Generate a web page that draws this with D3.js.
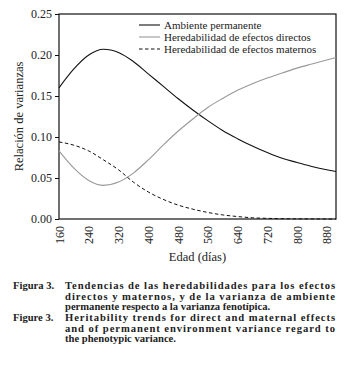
<!DOCTYPE html>
<html>
<head>
<meta charset="utf-8">
<script src="https://cdn.jsdelivr.net/npm/d3@7"></script>
<style>
body { margin: 0; background: #fff; }
svg text { font-family: "Liberation Serif", "DejaVu Serif", serif; fill: #222; }
</style>
</head>
<body>
<script>
// data (edad en días)
var days = [160, 200, 240, 280, 320, 360, 400, 440, 480, 520, 560, 600, 640, 680, 720, 760, 800, 840, 880, 905];
var ambiente = [0.160, 0.183, 0.200, 0.207, 0.203, 0.192, 0.177, 0.162, 0.147, 0.133, 0.120, 0.108, 0.098, 0.089, 0.081, 0.074, 0.069, 0.064, 0.060, 0.058];
var directos = [0.083, 0.062, 0.047, 0.041, 0.045, 0.056, 0.072, 0.090, 0.107, 0.122, 0.136, 0.147, 0.157, 0.165, 0.172, 0.178, 0.184, 0.189, 0.194, 0.197];
var maternos = [0.094, 0.090, 0.083, 0.072, 0.060, 0.045, 0.033, 0.024, 0.017, 0.012, 0.008, 0.005, 0.003, 0.0015, 0.0008, 0.0004, 0.0002, 0.0001, 0.0, 0.0];
var xTicks = [160, 240, 320, 400, 480, 560, 640, 720, 800, 880];
var yTicks = [0, 0.05, 0.10, 0.15, 0.20, 0.25];
var seriesNames = ["Ambiente permanente", "Heredabilidad de efectos directos", "Heredabilidad de efectos maternos"];
var captionEs = ["Tendencias de las heredabilidades para los efectos", "directos y maternos, y de la varianza de ambiente", "permanente respecto a la varianza fenotípica."];
var captionEn = ["Heritability trends for direct and maternal effects", "and of permanent environment variance regard to", "the phenotypic variance."];

var W = 347, H = 378;
var pLeft = 59, pRight = 336, pTop = 14, pBottom = 219; // plot box (top is taken by window.top)

var svg = d3.select("body").append("svg")
    .attr("width", W)
    .attr("height", H);

var x = d3.scaleLinear().domain([160, 905]).range([pLeft, pRight]);
var y = d3.scaleLinear().domain([0, 0.25]).range([pBottom, pTop]);

// frame
svg.append("rect")
    .attr("x", pLeft).attr("y", pTop)
    .attr("width", pRight - pLeft).attr("height", pBottom - pTop)
    .attr("fill", "none").attr("stroke", "#111").attr("stroke-width", 1.2);

// y axis
var yAxis = svg.append("g")
    .attr("transform", "translate(" + pLeft + ",0)")
    .call(d3.axisLeft(y).tickValues(yTicks).tickFormat(d3.format(".2f")).tickSize(4).tickPadding(3));
yAxis.select(".domain").remove();
yAxis.selectAll("line").attr("stroke", "#111");
yAxis.selectAll("text").attr("font-size", "12px").style("font-family", "Liberation Serif").attr("fill", "#222");

// x axis, labels rotated
var xAxis = svg.append("g")
    .attr("transform", "translate(0," + pBottom + ")")
    .call(d3.axisBottom(x).tickValues(xTicks).tickSize(0).tickPadding(0));
xAxis.select(".domain").remove();
xAxis.selectAll("text")
    .attr("font-size", "12px")
    .style("font-family", "Liberation Serif")
    .attr("fill", "#222")
    .attr("text-anchor", "end")
    .attr("transform", "rotate(-90)")
    .attr("x", -7).attr("y", 0).attr("dy", "0.35em");

// axis titles
svg.append("text")
    .attr("x", (pLeft + pRight) / 2).attr("y", 261)
    .attr("text-anchor", "middle").attr("font-size", "12.5px")
    .text("Edad (días)");
svg.append("text")
    .attr("transform", "translate(23," + ((pTop + pBottom) / 2) + ") rotate(-90)")
    .attr("text-anchor", "middle").attr("font-size", "12.5px")
    .text("Relación de varianzas");

// curves
var line = d3.line().curve(d3.curveMonotoneX);
var styles = [
    {data: ambiente, color: "#111", width: 1.1, dash: null},
    {data: directos, color: "#999", width: 1.1, dash: null},
    {data: maternos, color: "#111", width: 1, dash: "3.5,2.5"}
];
styles.forEach(function(s) {
    var pts = days.map(function(d, i) { return [x(d), y(s.data[i])]; });
    svg.append("path")
        .attr("d", line(pts))
        .attr("fill", "none")
        .attr("stroke", s.color)
        .attr("stroke-width", s.width)
        .attr("stroke-dasharray", s.dash);
});

// legend
var legend = svg.append("g").attr("transform", "translate(139,25)");
styles.forEach(function(s, i) {
    legend.append("line")
        .attr("x1", 0).attr("x2", 21)
        .attr("y1", i * 12).attr("y2", i * 12)
        .attr("stroke", s.color).attr("stroke-width", s.width)
        .attr("stroke-dasharray", s.dash);
    legend.append("text")
        .attr("x", 25).attr("y", i * 12).attr("dy", "0.33em")
        .attr("font-size", "11px")
        .text(seriesNames[i]);
});

// caption
var cap = svg.append("g").attr("font-weight", "bold").attr("font-size", "10.6px");
function captionBlock(label, lines, y0) {
    cap.append("text").attr("x", 13).attr("y", y0).text(label);
    lines.forEach(function(t, i) {
        var tx = cap.append("text").attr("x", 65).attr("y", y0 + i * 10.6).text(t);
        if (i < lines.length - 1) tx.attr("textLength", 270).attr("lengthAdjust", "spacing");
    });
}
captionBlock("Figura 3.", captionEs, 289);
captionBlock("Figure 3.", captionEn, 321);
</script>
</body>
</html>
